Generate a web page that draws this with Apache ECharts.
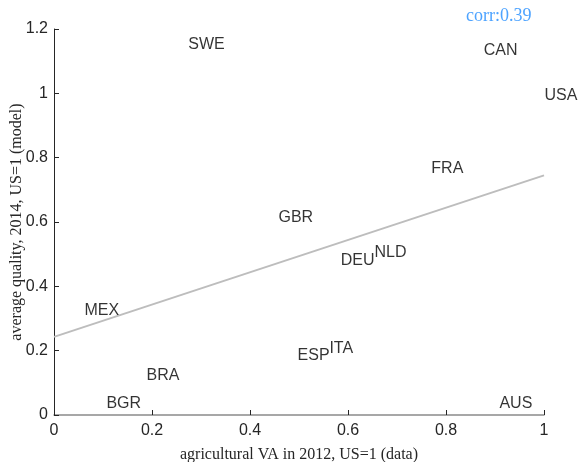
<!DOCTYPE html>
<html>
<head>
<meta charset="utf-8">
<script src="https://cdn.jsdelivr.net/npm/echarts@6/dist/echarts.min.js"></script>
<style>html,body{margin:0;padding:0;background:#fff;}#c{width:580px;height:462px;}</style>
</head>
<body>
<div id="c"></div>
<script>
const countries = ['SWE','CAN','USA','FRA','GBR','MEX','BRA','BGR','DEU','NLD','ESP','ITA','AUS'];
const agriVA   = [0.273, 0.876, 1.0, 0.769, 0.457, 0.061, 0.188, 0.106, 0.584, 0.653, 0.496, 0.561, 0.908];
const quality  = [1.152, 1.134, 0.994, 0.767, 0.615, 0.326, 0.124, 0.034, 0.481, 0.506, 0.186, 0.205, 0.034];
const fitX = [0, 1];
const fitY = [0.243, 0.745];
const corrText = 'corr:0.39';
const xTicks = [0, 0.2, 0.4, 0.6, 0.8, 1];
const yTicks = [0, 0.2, 0.4, 0.6, 0.8, 1, 1.2];

const chart = echarts.init(document.getElementById('c'), null, {renderer:'canvas'});
const axisCol = '#262626';
const serif = '"Liberation Serif","Times New Roman",serif';
const sans = '"Liberation Sans",Arial,sans-serif';
const fmt = v => String(Math.round(v*10)/10);
chart.setOption({
  animation: false,
  backgroundColor: '#ffffff',
  title: {
    text: corrText, left: 466, top: 7, padding: 0,
    textStyle: {fontFamily: serif, fontSize: 18, fontWeight: 'normal', color: '#4da3ff'}
  },
  grid: {left: 54, top: 29, width: 490, height: 386, containLabel: false, outerBoundsMode: 'none'},
  xAxis: {
    type: 'value', min: xTicks[0], max: xTicks[xTicks.length-1], interval: 0.2,
    name: 'agricultural VA in 2012, US=1 (data)', nameLocation: 'middle', nameGap: 32, nameMoveOverlap: false,
    nameTextStyle: {fontFamily: serif, fontSize: 16, color: axisCol},
    axisLine: {show: true, lineStyle: {color: '#8a8a8a', width: 1.5}},
    axisTick: {show: true, inside: true, length: 5, lineStyle: {color: axisCol}},
    axisLabel: {fontFamily: sans, fontSize: 16, color: axisCol, margin: 8, formatter: fmt},
    splitLine: {show: false}
  },
  yAxis: {
    type: 'value', min: yTicks[0], max: yTicks[yTicks.length-1], interval: 0.2,
    name: 'average quality, 2014, US=1 (model)', nameLocation: 'middle', nameGap: 29, nameMoveOverlap: false,
    nameTextStyle: {fontFamily: serif, fontSize: 16, color: axisCol},
    axisLine: {show: true, lineStyle: {color: axisCol, width: 1}},
    axisTick: {show: true, inside: true, length: 5, lineStyle: {color: axisCol}},
    axisLabel: {fontFamily: sans, fontSize: 16, color: axisCol, margin: 6, formatter: fmt},
    splitLine: {show: false}
  },
  series: [
    {
      type: 'line', data: fitX.map((x,i)=>[x, fitY[i]]), showSymbol: false, symbol: 'none',
      lineStyle: {color: '#bdbdbd', width: 2}, silent: true, z: 1
    },
    {
      type: 'scatter', symbolSize: 1, itemStyle: {color: 'transparent'},
      data: countries.map((c,i)=>({name: c, value: [agriVA[i], quality[i]]})),
      label: {show: true, position: 'right', distance: 0, formatter: p => p.name,
        fontFamily: sans, fontSize: 16, color: '#000'},
      z: 2
    }
  ]
});
</script>
</body>
</html>
